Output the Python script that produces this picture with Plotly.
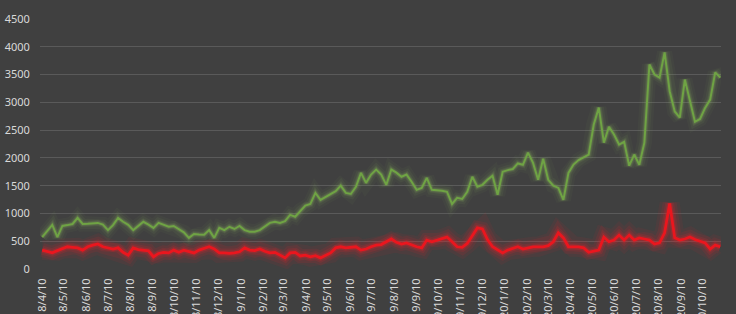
import pandas as pd
import plotly.graph_objects as go

# weekly observations starting 2018-04-10
start_date = "2018-04-10"
n_points = 135
dates = pd.date_range(start_date, periods=n_points, freq="7D")

green_values = [
    575, 690, 795, 575, 775, 790, 810, 920, 810, 815,
    820, 830, 800, 700, 790, 920, 850, 795, 700, 780,
    850, 800, 740, 830, 790, 760, 775, 720, 660, 560,
    630, 620, 615, 700, 560, 740, 700, 760, 720, 775,
    700, 670, 670, 700, 760, 830, 850, 830, 860, 975,
    940, 1050, 1140, 1170, 1370, 1245, 1300, 1340, 1400, 1500,
    1370, 1350, 1480, 1730, 1550, 1700, 1790, 1700, 1515, 1790,
    1735, 1660, 1700, 1570, 1425, 1460, 1640, 1425, 1420, 1410,
    1390, 1170, 1280, 1260, 1390, 1660, 1480, 1515, 1605, 1680,
    1335, 1750, 1780, 1800, 1900, 1875, 2095, 1910, 1605, 1985,
    1605, 1500, 1460, 1245, 1730, 1880, 1960, 2010, 2060, 2600,
    2905, 2275, 2560, 2420, 2240, 2290, 1860, 2060, 1875, 2275,
    3680, 3500, 3445, 3900, 3200, 2835, 2725, 3410, 3000, 2650,
    2700, 2900, 3050, 3540, 3445,
]

red_values = [
    340, 310, 290, 330, 370, 400, 390, 380, 340, 400,
    430, 450, 400, 380, 360, 380, 300, 250, 380, 350,
    340, 325, 220, 280, 300, 290, 340, 300, 340, 310,
    290, 340, 370, 400, 360, 290, 290, 280, 290, 310,
    380, 340, 330, 360, 320, 290, 300, 250, 200, 290,
    300, 235, 250, 220, 240, 200, 250, 290, 380, 400,
    380, 390, 400, 340, 360, 400, 430, 440, 490, 540,
    480, 450, 470, 430, 400, 380, 520, 490, 520, 540,
    575, 490, 400, 390, 460, 600, 740, 720, 530, 400,
    340, 290, 340, 370, 400, 360, 380, 400, 400, 400,
    420, 490, 650, 560, 400, 400, 400, 380, 300, 320,
    340, 575, 490, 520, 610, 520, 610, 520, 560, 540,
    520, 450, 470, 650, 1180, 560, 520, 540, 575, 530,
    500, 470, 360, 430, 400,
]

tick_dates = [pd.Timestamp(year=y, month=m, day=10)
              for y in (2018, 2019, 2020) for m in range(1, 13)
              if pd.Timestamp("2018-04-10") <= pd.Timestamp(year=y, month=m, day=10) <= pd.Timestamp("2020-10-10")]
tick_labels = [f"{d.year}/{d.month}/{d.day}" for d in tick_dates]

y_ticks = [0, 500, 1000, 1500, 2000, 2500, 3000, 3500, 4000, 4500]

BG = "#404040"
GRID = "#5a5a5a"
TXT = "#d9d9d9"

fig = go.Figure()

def add_glow(y, core, glow, core_w, layers):
    for w, op in layers:
        fig.add_trace(go.Scatter(x=dates, y=y, mode="lines",
                                 line=dict(color=glow, width=w, shape="linear"),
                                 opacity=op, hoverinfo="skip", showlegend=False))
    fig.add_trace(go.Scatter(x=dates, y=y, mode="lines",
                             line=dict(color=core, width=core_w),
                             showlegend=False))

add_glow(green_values, "#6fa344", "#86ad5c", 2.0,
         [(15, 0.05), (10, 0.08), (6, 0.13), (4, 0.2)])
add_glow(red_values, "#ea161e", "#d8242a", 2.8,
         [(20, 0.08), (14, 0.12), (9, 0.17), (5.5, 0.28)])

fig.update_layout(
    width=736, height=314,
    margin=dict(l=40, r=15, t=19, b=45),
    paper_bgcolor=BG, plot_bgcolor=BG,
    font=dict(family="Noto Sans, Open Sans, sans-serif", color=TXT, size=11),
    showlegend=False,
)
fig.update_xaxes(
    type="date",
    range=["2018-04-07", "2020-11-04"],
    tickmode="array", tickvals=tick_dates, ticktext=tick_labels,
    tickangle=-90, showgrid=False, zeroline=False, showline=False,
    ticks="outside", ticklen=4, tickcolor="rgba(0,0,0,0)",
    automargin=False, tickfont=dict(size=11, color=TXT),
)
fig.update_yaxes(
    range=[0, 4500], tickmode="array", tickvals=y_ticks,
    showgrid=True, gridcolor=GRID, gridwidth=1, zeroline=False, showline=False,
    ticks="outside", ticklen=7, tickcolor="rgba(0,0,0,0)",
    automargin=False, tickfont=dict(size=11, color=TXT),
)

fig.write_html("out.html")
